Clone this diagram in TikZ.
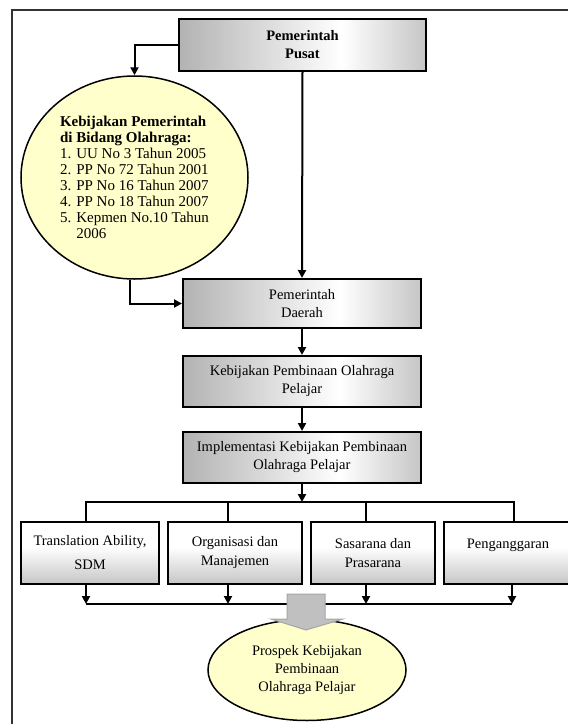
\documentclass[tikz,border=0pt]{standalone}
\usepackage{fontspec}
\setmainfont{Liberation Serif}
\usetikzlibrary{arrows.meta,shapes.geometric,calc}
\definecolor{paleyellow}{HTML}{FFFFCC}
\definecolor{framegray}{HTML}{333333}
\definecolor{arrowgray}{HTML}{C0C0C0}
\definecolor{arrowedge}{HTML}{A6A6A6}
\pgfdeclarehorizontalshading{topshade}{100bp}{color(0bp)=(gray!60); color(25bp)=(gray!60); color(58bp)=(white); color(75bp)=(gray!45); color(100bp)=(gray!45)}
\pgfdeclareverticalshading{subshade}{100bp}{color(0bp)=(gray!45); color(25bp)=(gray!45); color(55bp)=(white); color(75bp)=(white); color(100bp)=(white)}
\tikzset{
  topbox/.style={draw,line width=2pt,shading=topshade,minimum width=238pt,minimum height=51pt,align=center,inner sep=2pt,font=\fontsize{14.5}{18}\selectfont},
  subbox/.style={draw,line width=2pt,shading=subshade,minimum height=62pt,align=center,inner sep=2pt,font=\fontsize{14.5}{19}\selectfont},
  policynode/.style={ellipse,draw,line width=1.5pt,fill=paleyellow,inner sep=0pt,align=left,font=\fontsize{15}{16}\selectfont},
  prospectnode/.style={ellipse,draw,line width=1.5pt,fill=paleyellow,inner sep=0pt,align=center,font=\fontsize{14.5}{18}\selectfont},
  arrow/.style={-{Triangle[length=8pt,width=8pt]},line width=2pt},
  plainline/.style={line width=2pt},
  blockarrow/.style={fill=arrowgray,draw=arrowedge,line width=1pt}
}
\begin{document}
\begin{tikzpicture}[x=1pt,y=-1pt]
  \useasboundingbox (0,0) rectangle (568,724);
  \draw[line width=2pt,framegray] (12,730) -- (12,10) -- (575,10);

  % top of the chain
  \node[topbox,minimum width=247pt,minimum height=52pt,font=\fontsize{14.5}{18}\selectfont\bfseries] (pusat) at (302.5,45) {Pemerintah\\Pusat};
  \node[policynode,minimum width=227pt,minimum height=203pt] (kebijakan) at (134.5,177.5)
    {\textbf{Kebijakan Pemerintah}\\\textbf{di Bidang  Olahraga:}\\1. UU No 3 Tahun 2005\\2. PP No 72 Tahun 2001\\3. PP No 16 Tahun 2007\\4. PP No 18 Tahun 2007\\5. Kepmen No.10 Tahun\\\hphantom{5. }2006};
  \node[topbox,minimum height=49pt] (daerah) at (302,303.5) {Pemerintah\\Daerah};
  \node[topbox] (pembinaan) at (302,381.5) {Kebijakan Pembinaan Olahraga\\Pelajar};
  \node[topbox] (implementasi) at (302,457.5) {Implementasi Kebijakan Pembinaan\\Olahraga Pelajar};

  % the four fields
  \node[subbox,minimum width=138pt] (sdm) at (90,553) {Translation Ability,\\[5pt]SDM};
  \node[subbox,minimum width=134pt] (organisasi) at (235,553) {Organisasi  dan\\Manajemen};
  \node[subbox,minimum width=124pt] (sarana) at (373,553) {Sasarana dan\\Prasarana};
  \node[subbox,minimum width=128pt] (anggaran) at (508,553) {Penganggaran\\\mbox{}};

  \node[prospectnode,minimum width=198pt,minimum height=101pt] (prospek) at (307,670) {Prospek  Kebijakan\\Pembinaan\\Olahraga Pelajar};

  \coordinate (topbar) at (302,502);
  \coordinate (botbar) at (302,604);

  \draw[arrow] (pusat.west) -| (kebijakan.north);
  \draw[arrow] (pusat.south) -- (daerah.north);
  \draw[arrow] ([xshift=-5pt]kebijakan.south) |- (daerah.west);
  \draw[arrow] (daerah) -- (pembinaan);
  \draw[arrow] (pembinaan) -- (implementasi);
  \draw[arrow] (implementasi) -- (topbar);

  \draw[plainline] ([xshift=-4pt]sdm.north) -- ([xshift=-4pt]sdm.north |- topbar) -- ([xshift=6pt]anggaran.north |- topbar) -- ([xshift=6pt]anggaran.north);
  \draw[plainline] ([xshift=-7pt]organisasi.north) -- ([xshift=-7pt]organisasi.north |- topbar);
  \draw[plainline] ([xshift=-7pt]sarana.north) -- ([xshift=-7pt]sarana.north |- topbar);

  \draw[arrow] ([xshift=-4pt]sdm.south) -- ([xshift=-4pt]sdm.south |- botbar);
  \draw[arrow] ([xshift=-7pt]organisasi.south) -- ([xshift=-7pt]organisasi.south |- botbar);
  \draw[arrow] ([xshift=-7pt]sarana.south) -- ([xshift=-7pt]sarana.south |- botbar);
  \draw[arrow] ([xshift=4pt]anggaran.south) -- ([xshift=4pt]anggaran.south |- botbar);
  \draw[plainline] ([xshift=-4pt]sdm.south |- botbar) -- ([xshift=4pt]anggaran.south |- botbar);

  % big grey arrow into the prospect
  \path[blockarrow] (287,594) -- (325,594) -- (325,619) -- (343,619) -- (306,630) -- (271,619) -- (287,619) -- cycle;
\end{tikzpicture}
\end{document}
